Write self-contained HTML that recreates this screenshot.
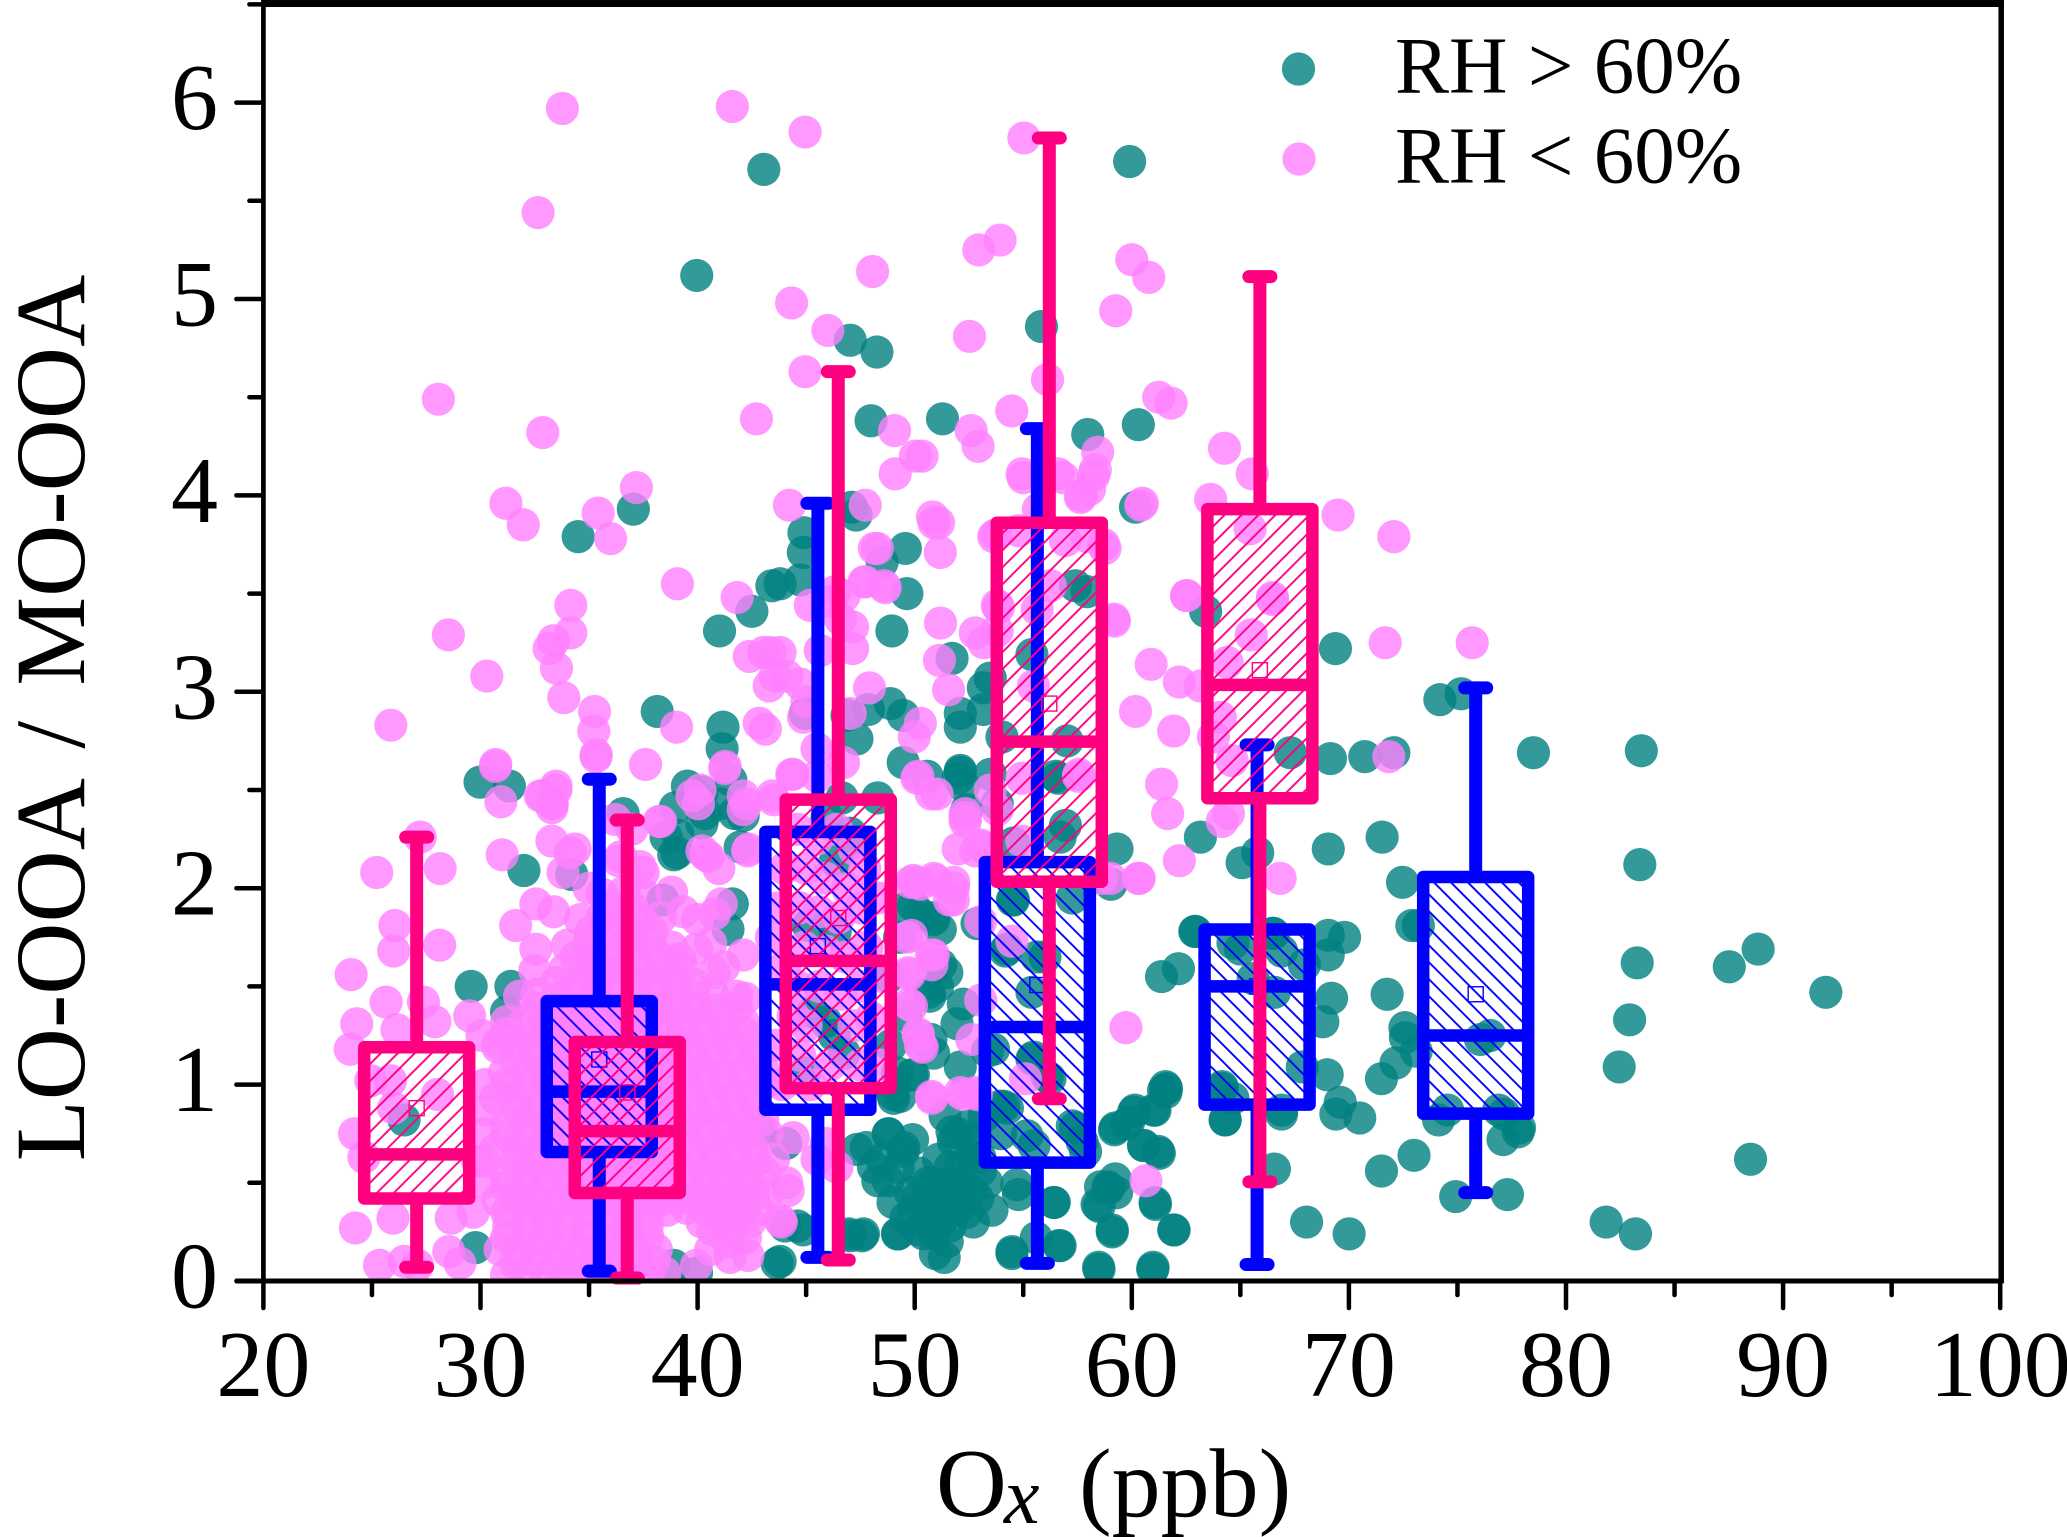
<!DOCTYPE html>
<html lang="en">
<head>
<meta charset="utf-8">
<title>LO-OOA / MO-OOA vs Ox</title>
<style>
html,body{margin:0;padding:0;background:#fff;width:2067px;height:1537px;overflow:hidden}
svg{display:block}
text{font-family:"Liberation Serif",serif;fill:#000}
</style>
</head>
<body>
<svg id="chart" xmlns="http://www.w3.org/2000/svg" width="2067" height="1537" viewBox="0 0 2067 1537">
  <defs>
    <pattern id="hatch-blue" patternUnits="userSpaceOnUse" width="12" height="12" patternTransform="rotate(45)">
      <line x1="0" y1="6" x2="12" y2="6" stroke="#0000ff" stroke-width="1.9"/>
    </pattern>
    <pattern id="hatch-pink" patternUnits="userSpaceOnUse" width="12" height="12" patternTransform="rotate(-45)">
      <line x1="0" y1="6" x2="12" y2="6" stroke="#ff0080" stroke-width="1.9"/>
    </pattern>
    <clipPath id="plot-clip"><rect x="263" y="4" width="1738" height="1275"/></clipPath>
  </defs>
  <g id="points-high" clip-path="url(#plot-clip)"></g>
  <g id="points-low" clip-path="url(#plot-clip)"></g>
  <g id="boxes"></g>
  <g id="axes"></g>
  <g>
    <circle cx="1298.5" cy="69" r="16.6" fill="#008080" fill-opacity="0.8"/>
    <text x="1395" y="92.5" font-size="81">RH &gt; 60%</text>
    <circle cx="1299" cy="159" r="16.6" fill="#ff80ff" fill-opacity="0.8"/>
    <text x="1395" y="182.5" font-size="81">RH &lt; 60%</text>
  </g>
  <text transform="translate(84,718) rotate(-90)" text-anchor="middle" font-size="100" word-spacing="10">LO-OOA / MO-OOA</text>
  <text y="1516" font-size="98"><tspan x="936">O</tspan><tspan x="1004" y="1523" font-size="80" font-style="italic">x</tspan><tspan x="1079" y="1516">(ppb)</tspan></text>
</svg>
<script>
const xTicks = [20,30,40,50,60,70,80,90,100];
const xMinorTicks = [25,35,45,55,65,75,85,95];
const yTicks = [0,1,2,3,4,5,6];
const yMinorTicks = [0.5,1.5,2.5,3.5,4.5,5.5,6.5];

const rhHighPoints = [
[43.05,5.66],[39.96,5.12],[59.9,5.7],[55.84,4.86],[47.03,4.79],[48.26,4.73],[47.99,4.38],[51.28,4.39],[60.3,4.36],[57.97,4.31],[60.17,3.94],[34.5,3.79],[37.04,3.93],
[38.14,2.9],[41.17,2.82],[41.13,2.71],[41.53,2.55],[42.5,3.41],[41.01,3.31],[43.42,3.54],[29.98,2.54],[31.33,2.52],[39.53,2.52],[40.2,2.49],[38.97,2.41],[40.2,2.33],[41.04,2.43],[42.1,2.37],[38.55,2.26],[39.05,2.18],[36.57,2.38],[41.96,2.21],[32,2.09],
[44.9,3.81],[44.87,3.71],[44.73,3.57],[43.8,3.55],[47.1,3.94],[47.3,3.9],[49.57,3.73],[48.5,3.66],[49.64,3.5],[48.95,3.31],[44.96,2.89],[46.88,2.88],[47.87,2.91],[48.88,2.94],[49.47,2.88],[47.34,2.76],[51.72,3.17],[53.48,3.07],[53.16,3.02],[53.16,2.91],[52.1,2.89],[52.1,2.82],[54.02,2.77],[49.47,2.64],[50.57,2.57],[52.1,2.59],[52.25,2.52],[53.48,2.58],[53.8,2.43],[52.4,2.4],
[57.4,3.54],[57.94,3.51],[55.4,3.19],[63.4,3.41],[57.02,2.75],[56.6,2.56],[56.94,2.32],[56.7,2.26],[59.32,2.2],[54.55,2.23],[63.16,2.26],[67.3,2.69],[65.8,2.18],[65.08,2.13],[45.96,2.36],[46.65,2.46],[48.3,2.46],[47.03,2.28],
[69.38,3.22],[74.19,2.96],[75.17,2.99],[69.15,2.66],[70.73,2.67],[72.07,2.69],[78.5,2.69],[83.47,2.7],[69.05,2.2],[71.53,2.26],[83.4,2.12],[83.28,1.62],[87.52,1.6],[88.85,1.69],[91.97,1.47],[82.93,1.33],[82.45,1.09],[88.5,0.62],[81.85,0.3],[83.2,0.24],[77.3,0.44],[77.86,0.78],[77.1,0.72],[77.15,0.85],
[52.1,2.6],[59.04,2.02],[72.47,2.03],[62.9,1.78],[61.37,1.55],[62.15,1.59],[64.66,1.72],[66.5,1.77],[66.9,1.68],[67.95,1.61],[69.05,1.76],[69.8,1.75],[69.05,1.66],[69.2,1.44],[68.8,1.32],[65.59,1.54],[66.57,1.47],[69,1.05],[67.85,1.09],[69.6,0.91],[70.5,0.83],[69.4,0.85],[64.15,0.98],[64.3,0.82],[64.66,0.93],[66.9,0.87],[66.57,0.57],[68.05,0.3],[70.01,0.24],[71.76,1.46],[72.58,1.29],[72.6,1.24],[73.1,1.17],[72.17,1.11],[71.5,1.03],[73,0.64],[71.5,0.56],[74.92,0.43],[74.13,0.82],[74.55,0.87],[77.8,0.76],[76.9,0.87],[76.06,1.23],[76.5,1.25],[73.2,1.81],[72.9,1.81],
[54.5,1.94],[57.26,1.95],[54.17,1.68],[56,1.65],[55.4,1.47],[56.5,2.57],[52,2.56],[53.35,1.17],[55.4,1.13],[56.23,1.03],[54.27,0.88],[57.26,0.79],[53.96,0.75],[55.5,0.69],[57.87,0.66],[56.43,0.4],[54.48,0.14],[56.64,0.18],[58.49,0.06],[60.96,0.06],[59.1,0.25],[61.95,0.26],[61.09,0.39],[58.49,0.38],[58.9,0.48],[59.3,0.45],[60.55,0.69],[61.27,0.65],[61.57,0.96],[61.6,0.98],[61.07,0.87],[60.14,0.87],[59.73,0.8],[59.2,0.77],[52,0.75],[49.94,1.05],[49.33,0.94],
[49.03,0.93],[49.87,1.05],[51.72,0.76],[52.47,0.79],[48.78,0.75],[49.47,0.66],[47.34,0.67],[48.1,0.58],[49.24,0.58],[48.3,0.51],[48.78,0.51],[49.8,0.45],[50.57,0.4],[51.64,0.58],[52.1,0.58],[53.02,0.56],[53.33,0.5],[52.1,0.43],[53.56,0.36],[52.4,0.35],[51.32,0.38],[50.57,0.3],[51.64,0.28],[50.4,0.24],[49.24,0.24],[50.17,0.26],[51.36,0.12],[47.64,0.24],[47.03,0.23],[44.86,0.26],[44.03,0.28],[43.8,0.1],[54.7,0.49],[54.78,0.44],[56.4,0.4],[58.4,0.39],[58.56,0.48],[59.24,0.52],[58.93,0.47],[61.07,0.4],[61.93,0.26],[59.1,0.26],[56.7,0.18],[54.48,0.15],[55.6,0.22],[58.47,0.07],[60.98,0.07],
[61.55,0.99],[61,0.87],[60.08,0.86],[59.24,0.78],[59.86,0.81],[60.54,0.69],[61.22,0.66],[61.46,0.97],[51.78,0.71],[52.1,1.09],[50.87,1.16],[50.7,1.45],[51.48,1.57],[51.18,1.79],[49.94,1.91],[50.87,1.84],[52.87,1.82],[52.24,1.41],[51.95,1.31],[53.63,1.18],[54.55,1.94],[54.25,1.69],[55.63,1.65],[53.94,0.89],[57.4,0.78],[57.71,0.71],[55.17,0.74],[55.47,1.14],[56.1,1.04],[54.1,0.89],[64.3,0.82],[66.9,0.85],[64.16,0.99],[62.93,1.78],[65,1.69],[66.52,1.77],
[29.57,1.5],[31.4,1.5],[31.2,1.37],[29.77,0.17],[38.9,2.17],[43.66,0.09],[39.95,0.04],[34.2,2.07],[38.4,1.94],[39.95,2.47],[39.1,2.27],[40.35,2.38],[41.7,2.38],[42.84,0.77],[44.06,0.7],[47.77,0.68],[48.8,0.75],[49.5,0.68],[50.66,0.37],[49.2,0.24],[47.57,0.23],[46.96,0.24],[44.6,0.28],[50.95,0.14],[41.6,1.92],[41.4,1.79],[50.86,1.85],[50.24,1.87],[51.05,1.5],[50.75,1.23],[49.2,1.06],[49,0.95],[26.48,0.82],
[45.9,1.32],[46.3,1.25],[45.3,1.37],[46.75,1.16],[44.9,1.06],[46.34,2.14],[47.15,2.23],[45.1,1.81],[46.34,1.78],[49.6,1.9],[51.2,1.61],[50.66,1.47],[48.9,1.2],[49.6,1.35],[48.8,1.55],[49.3,1.75],[38.9,0.08],[35.8,0.01],
[50.1,0.42],[50.9,0.5],[51.3,0.46],[51.9,0.5],[52.6,0.46],[50.8,0.34],[51.2,0.3],[51.9,0.36],[52.7,0.3],[50.6,0.5],[49.6,0.32],[50,0.36],[51.5,0.2],[50.9,0.24],[52.9,0.42],[53,0.63],[51.1,0.62],[52.6,0.64],[50.2,0.55],[49,0.4],[48.5,0.62],[49.9,0.72],[51.4,0.84],[52.8,0.72],[53.2,0.84]
];

const rhLowPoints = [
[33.77,5.97],[41.6,5.98],[44.95,5.85],[32.65,5.44],[48.06,5.14],[44.33,4.98],[46,4.84],[44.95,4.63],[28.06,4.49],[32.87,4.32],[42.71,4.39],[49.07,4.33],[50.03,4.2],[49.1,4.11],
[55.03,5.82],[53.93,5.3],[52.95,5.25],[60,5.2],[60.78,5.11],[59.26,4.94],[52.52,4.81],[56.12,4.59],[61.24,4.5],[61.81,4.47],[54.47,4.43],[52.6,4.33],[52.92,4.25],[58.43,4.22],[64.27,4.24],[50.34,4.2],[54.95,4.11],[56.6,4.11],[58.32,4.13],[65.55,4.11],
[58.05,4.03],[57.68,4],[60.41,3.95],[63.63,3.98],[65.45,3.83],[69.5,3.9],[72.07,3.79],[48.28,3.73],[50.89,3.86],[58.77,3.73],[56.95,3.77],[53.74,3.8],[47.67,3.56],[46.15,3.46],[46.76,3.49],[48.64,3.53],[59.2,3.36],[62.54,3.49],[66.48,3.47],
[31.17,3.96],[31.97,3.85],[35.42,3.91],[37.18,4.04],[35.99,3.78],[39.07,3.55],[41.82,3.48],[34.16,3.44],[34.16,3.3],[33.36,3.26],[33.16,3.22],[33.5,3.12],[28.52,3.29],[30.29,3.08],[33.84,2.97],[35.25,2.9],[35.22,2.8],[35.33,2.68],[25.87,2.83],[39.03,2.82],[37.6,2.63],[30.69,2.62],[30.94,2.44],[41.27,2.62],[33.48,2.52],[32.85,2.47],[33.3,2.43],[33.29,2.41],[38.23,2.34],[36.2,2.35],[36.97,2.3],[33.29,2.24],[34.36,2.2],[34.13,2.18],[31,2.17],[39.74,2.47],[40.12,2.5],[40.04,2.43],[42.24,2.43],[43.5,2.45],[42.38,3.18],[43.35,3.2],[43.04,3.2],[43.3,3.03],[42.84,2.84],[43.12,2.81],[43.57,3.08],[40.2,2.19],[40.5,2.16],[42.35,2.2],[36.36,2.14],[37.35,2.11],[27.22,2.26],[25.22,2.08],[28.14,2.1],
[44.23,3.95],[47.72,3.95],[50.82,3.89],[51.1,3.86],[51.18,3.71],[48.14,3.73],[47.72,3.56],[48.6,3.54],[46.34,3.51],[45.19,3.44],[46.58,3.37],[47.14,3.33],[47.14,3.22],[45.65,3.21],[43.8,3.2],[51.19,3.35],[52.79,3.3],[53.18,3.25],[51.14,3.16],[51.56,3.01],[44.11,3.08],[44.73,3.04],[45.03,2.95],[44.88,2.87],[47.92,3.02],[47.03,2.89],[50.26,2.84],[49.98,2.77],[45.5,2.71],[44.34,2.58],[45.5,2.57],[46.72,2.64],[50.1,2.56],[51.03,2.48],[52.33,2.38],[52.33,2.34],[53.48,2.5],[53.8,2.4],[52,2.2],[53.1,2.21],[53.8,3.44],[53.64,3.79],[54.8,3.82],[55.7,3.93],[55,4.09],[56.84,4.09],[57.63,3.99],[58.24,4.1],[60.49,3.96],[57.94,3.79],[58.7,3.75],[59.17,3.37],[56.25,3.54],[55.64,3.42],[53.86,3.43],[53.8,3.31],[55.47,3.03],[62.52,3.49],[66.48,3.48],[65.5,3.29],[64.39,3.15],[60.89,3.14],[62.19,3.05],[63.16,3.03],[60.17,2.9],[61.93,2.8],[63.76,2.77],[64.08,2.87],[64.62,2.65],[61.37,2.53],[61.65,2.38],[64.16,2.34],[64.45,2.38],[62.19,2.14],[57.54,2.57],[54.94,2.56],[54.94,2.24],[52.8,2.19],
[71.67,3.25],[75.68,3.25],[71.84,2.67],[60.34,2.05],[66.83,2.05],[59.73,1.29],[60.65,0.51],[54.48,1.73],[53.04,1.43],[52.63,1.23],[55.1,1.03],[50.77,0.94],[52.22,0.95],[52.84,0.95],[57.57,2.58],[50.15,2.57],[50.76,2.48],[52.32,2.36],[53.04,2.22],[49.94,2.04],[50.88,2.05],[51.8,2.03],[51.6,1.94],[53.04,1.83],[49.85,1.76],[50.77,1.66],[49.75,1.56],[49.85,1.4],[50.16,1.26],[50.35,1.19],[58.6,2.05],
[49.8,2.03],[50.26,2.02],[50.95,2.04],[51.78,2],[51.78,1.94],[49.64,1.75],[50.79,1.61],[49.71,1.57],[50.17,1.25],[50.26,1.2],[50.79,0.93],[52.1,0.96],[52.79,0.96],[44.4,0.73],[45.5,0.62],[46.42,0.58],[44.11,0.5],[43.8,0.31],[59.02,2.05],[60.3,2.05],
[30.7,2.63],[33.47,2.5],[32.75,2.47],[33.3,2.43],[35.32,2.67],[26.06,1.81],[26,1.68],[28.12,1.71],[24.04,1.56],[25.65,1.42],[27.37,1.42],[24.3,1.31],[27.9,1.32],[26.15,1.28],[24,1.18],[29.5,1.35],[24.95,1.02],[25.86,1.02],[24.2,0.75],[26,0.88],[28.02,0.95],[24.63,0.63],[25.97,0.32],[24.24,0.27],[25.35,0.08],[26.48,0.1],[27.1,0.08],[29.05,0.09],[28.54,0.15],[28.65,0.32],[29.67,0.35],[29.87,0.61],[30.07,1.25],[30.8,1.21],
[32.55,1.92],[31.62,1.81],[33.37,1.88],[32.55,1.69],[33.8,2.08],[35,2],[36.46,2.16],[37.49,2.08],[38.3,2.34],[41.25,2.61],[42.1,2.4],[44.38,2.58],[40.37,2.17],[40.98,2.1],[42.3,2.19],[39.34,1.88],[41.09,1.92],[40.78,1.87],[42.11,1.66],[39.95,1.69],[40.77,1.57],[41.8,1.45],[49.73,1.41],[50.86,1.66],[43.86,0.3],[44.17,0.46],[45.93,0.7],[42.32,0.13],[41.5,0.12],[39.95,0.08],[43.44,2.47],[42.1,2.47],[50.02,2.03],
[44.6,2.3],[45.5,2.25],[46.4,2.3],[47.2,2.2],[45,2.1],[45.9,2.05],[46.9,2],[47.7,2.1],[44.7,1.9],[45.6,1.88],[46.5,1.85],[47.5,1.9],[48.3,1.95],[44.9,1.7],[45.9,1.68],[46.8,1.65],[47.8,1.7],[44.6,1.5],[45.6,1.5],[46.6,1.46],[47.5,1.5],[48.5,1.55],[45,1.3],[47.2,1.3],[48,1.34],[44.7,1.15],[46.1,1.1],[47.5,1.1],[45.2,1],[48.4,1.1],[44.4,1.35],[44,1.6],[43.7,1.9],[44,2.1],[43.6,1.2],[43.9,1],[43.4,1.75],
[31.2,0.03],[32.1,0.04],[33,0.02],[34,0.03],[34.9,0.05],[35.8,0.03],[36.8,0.04],[37.7,0.02],[38.5,0.04],
[30.9,0.16],[31.7,0.15],[32.6,0.16],[33.6,0.14],[34.5,0.16],[35.4,0.15],[36.3,0.16],[37.2,0.15],[38.1,0.16],[40.6,0.16],[41.4,0.2],[42.2,0.22],
[31.3,0.28],[32.2,0.29],[33.1,0.27],[34.1,0.28],[35,0.29],[35.9,0.27],[36.8,0.28],[37.7,0.29],[40.2,0.3],[41.1,0.32],[41.9,0.34],[42.8,0.36],
[30.8,0.41],[31.7,0.42],[32.6,0.4],[33.6,0.41],[34.5,0.42],[35.4,0.4],[36.3,0.41],[37.2,0.42],[38.1,0.4],[39,0.42],[39.9,0.41],[40.8,0.42],[41.7,0.4],[42.6,0.44],
[31.2,0.54],[32.1,0.55],[33,0.53],[34,0.54],[34.9,0.55],[35.8,0.53],[36.8,0.54],[37.7,0.55],[38.6,0.53],[39.5,0.54],[40.4,0.55],[41.3,0.53],[42.2,0.54],[43.1,0.55],
[30.7,0.67],[31.7,0.68],[32.6,0.66],[33.5,0.67],[34.4,0.68],[35.3,0.66],[36.2,0.67],[37.1,0.68],[38,0.66],[38.9,0.67],[39.8,0.68],[40.7,0.66],[41.6,0.67],[42.5,0.68],
[31.2,0.8],[32.1,0.81],[33,0.79],[34,0.8],[34.9,0.81],[35.8,0.79],[36.8,0.8],[37.7,0.81],[38.6,0.79],[39.5,0.8],[40.4,0.81],[41.3,0.79],[42.2,0.8],[43,0.82],
[30.7,0.93],[31.6,0.94],[32.6,0.92],[33.5,0.93],[34.4,0.94],[35.3,0.92],[36.2,0.93],[37.1,0.94],[38,0.92],[38.9,0.93],[39.8,0.94],[40.7,0.92],[41.6,0.93],[42.5,0.94],
[31.1,1.06],[32.1,1.07],[33,1.05],[33.9,1.06],[34.9,1.07],[35.8,1.05],[36.7,1.06],[37.6,1.07],[38.5,1.05],[39.4,1.06],[40.3,1.07],[41.2,1.05],[42.1,1.06],[43,1.08],
[30.8,1.19],[31.6,1.2],[32.5,1.18],[33.4,1.19],[34.4,1.2],[35.3,1.18],[36.2,1.19],[37.1,1.2],[38,1.18],[38.9,1.19],[39.8,1.2],[40.7,1.18],[41.6,1.19],[42.5,1.2],
[31.2,1.32],[32.1,1.33],[33,1.31],[33.9,1.32],[34.8,1.33],[35.7,1.31],[36.7,1.32],[37.6,1.33],[38.5,1.31],[39.4,1.32],[40.3,1.33],[41.2,1.31],[42.1,1.32],
[31.8,1.45],[32.6,1.46],[33.5,1.44],[34.4,1.45],[35.3,1.46],[36.2,1.44],[37.1,1.45],[38,1.46],[38.9,1.44],[39.8,1.45],[40.7,1.46],[42.2,1.44],
[32.5,1.58],[33.9,1.59],[34.8,1.57],[35.7,1.58],[36.6,1.59],[37.5,1.57],[38.4,1.58],[39.3,1.59],[41.2,1.6],
[34,1.71],[35,1.72],[36,1.7],[36.9,1.71],[37.8,1.72],[38.8,1.7],[40.6,1.72],
[34.6,1.84],[35.6,1.85],[36.5,1.83],[37.4,1.84],[38.3,1.85],[40,1.84],
[35.6,1.97],[36.6,1.98],[37.6,1.96],[38.8,1.98]
];

const rhLowCorePoints = [
[31.6,0.09],[32.5,0.1],[33.5,0.08],[34.4,0.09],[35.3,0.1],[36.3,0.08],[37.2,0.09],[38,0.1],
[31.2,0.22],[32.1,0.23],[33,0.21],[34,0.22],[34.9,0.23],[35.8,0.21],[36.8,0.22],[37.7,0.23],[40.7,0.26],[41.6,0.27],[42.4,0.3],
[31.2,0.35],[32.2,0.36],[33.1,0.34],[34,0.35],[35,0.36],[35.9,0.34],[36.8,0.35],[37.7,0.36],[38.6,0.36],[39.5,0.37],[40.4,0.36],[41.3,0.37],[42.2,0.38],
[30.2,0.5],[31.2,0.48],[32.1,0.47],[33.1,0.49],[34,0.48],[35,0.47],[35.9,0.49],[36.8,0.48],[37.7,0.47],[38.6,0.49],[39.5,0.48],[40.4,0.47],[41.3,0.49],[42.2,0.48],[43.2,0.45],
[30.2,0.61],[31.6,0.61],[32.6,0.6],[33.5,0.61],[34.4,0.6],[35.4,0.61],[36.3,0.6],[37.2,0.61],[38.1,0.6],[39,0.61],[39.9,0.6],[40.8,0.61],[41.8,0.6],[42.7,0.61],[43.5,0.62],
[30.2,0.75],[31.2,0.74],[32.1,0.73],[33.1,0.74],[34,0.73],[34.9,0.74],[35.9,0.73],[36.8,0.74],[37.7,0.73],[38.6,0.74],[39.5,0.73],[40.4,0.74],[41.3,0.73],[42.2,0.74],[43.2,0.75],
[30.3,0.87],[31.7,0.87],[32.6,0.86],[33.5,0.87],[34.4,0.86],[35.4,0.87],[36.3,0.86],[37.2,0.87],[38.1,0.86],[39,0.87],[39.9,0.86],[40.8,0.87],[41.8,0.86],[42.7,0.87],
[30.2,1],[31.2,1],[32.1,0.99],[33.1,1],[34,0.99],[34.9,1],[35.9,0.99],[36.8,1],[37.7,0.99],[38.6,1],[39.5,0.99],[40.4,1],[41.3,0.99],[42.2,1],[43.1,1.01],
[31.6,1.12],[32.6,1.13],[33.5,1.12],[34.4,1.13],[35.4,1.12],[36.3,1.13],[37.2,1.12],[38.1,1.13],[39,1.12],[39.9,1.13],[40.8,1.12],[41.8,1.13],[42.7,1.14],
[31.2,1.26],[32.1,1.25],[33,1.26],[34,1.25],[34.9,1.26],[35.8,1.25],[36.8,1.26],[37.7,1.25],[38.6,1.26],[39.5,1.25],[40.4,1.26],[41.3,1.25],[42.2,1.26],
[32.6,1.39],[33.5,1.38],[34.4,1.39],[35.4,1.38],[36.3,1.39],[37.2,1.38],[38.1,1.39],[39,1.38],[39.9,1.39],[40.8,1.38],[41.8,1.39],
[33.5,1.52],[34.4,1.51],[35.4,1.52],[36.3,1.51],[37.2,1.52],[38.1,1.51],[39,1.52],[39.9,1.51],
[34.4,1.65],[35.3,1.64],[36.3,1.65],[37.2,1.64],[38.2,1.65],[39.2,1.64],
[35.1,1.78],[36.1,1.78],[37,1.77],[37.9,1.78],[36,1.91],[37,1.9]
];

const boxCenters = [27.06,35.47,36.76,45.54,46.48,55.65,56.2,65.77,65.9,75.84];
const boxSeries = ['low','high','low','high','low','high','low','high','low','high'];
const boxQ3 = [1.19,1.425,1.217,2.287,2.451,2.133,3.861,1.79,3.93,2.057];
const boxQ1 = [0.42,0.657,0.448,0.872,0.982,0.603,2.033,0.898,2.458,0.852];
const boxMedian = [0.645,0.964,0.763,1.51,1.63,1.293,2.746,1.5,3.035,1.25];
const boxMean = [0.88,1.128,0.96,1.705,1.848,1.507,2.94,1.5,3.11,1.46];
const whiskerHigh = [2.26,2.555,2.347,3.96,4.63,4.34,5.82,2.73,5.114,3.02];
const whiskerLow = [0.07,0.05,0.015,0.12,0.107,0.09,0.928,0.084,0.505,0.45];
const boxDrawOrder = [1,3,5,7,9,0,2,4,6,8];

const xOrigin = 263.4, xPerUnit = 21.71, xStart = 20;
const yOrigin = 1281, yPerUnit = 196.4;
function sx(v){ return xOrigin + (v - xStart) * xPerUnit; }
function sy(v){ return yOrigin - v * yPerUnit; }

const NS = 'http://www.w3.org/2000/svg';
function make(tag, props, parent){
  const el = document.createElementNS(NS, tag);
  for (const k in props) el.setAttribute(k, props[k]);
  parent.appendChild(el);
  return el;
}

const highGroup = document.getElementById('points-high');
rhHighPoints.forEach(function(p){
  const c = make('circle', {cx:sx(p[0]), cy:sy(p[1]), r:16.6, fill:'#008080', 'fill-opacity':0.8}, highGroup);
  
  
});
const lowGroup = document.getElementById('points-low');
rhLowPoints.concat(rhLowCorePoints).forEach(function(p){
  const c = make('circle', {cx:sx(p[0]), cy:sy(p[1]), r:16.6, fill:'#ff80ff', 'fill-opacity':0.8}, lowGroup);
  
  
});

const boxesGroup = document.getElementById('boxes');
const boxHalf = 52.5;
boxDrawOrder.forEach(function(i){
  const color = boxSeries[i] === 'high' ? '#0000ff' : '#ff0080';
  const hatch = boxSeries[i] === 'high' ? 'url(#hatch-blue)' : 'url(#hatch-pink)';
  const cx = sx(boxCenters[i]);
  const g = make('g', {}, boxesGroup);
  
  
  const top = sy(boxQ3[i]), bot = sy(boxQ1[i]);
  const w1 = make('line', {x1:cx, x2:cx, y1:sy(whiskerHigh[i]), y2:top, stroke:color, 'stroke-width':13}, g);
  
  
  const w2 = make('line', {x1:cx, x2:cx, y1:bot, y2:sy(whiskerLow[i]), stroke:color, 'stroke-width':13}, g);
  
  
  const c1 = make('line', {x1:cx-11, x2:cx+11, y1:sy(whiskerHigh[i]), y2:sy(whiskerHigh[i]), stroke:color, 'stroke-width':13, 'stroke-linecap':'round'}, g);
  
  
  const c2 = make('line', {x1:cx-11, x2:cx+11, y1:sy(whiskerLow[i]), y2:sy(whiskerLow[i]), stroke:color, 'stroke-width':13, 'stroke-linecap':'round'}, g);
  
  
  const r = make('rect', {x:cx-boxHalf, y:top, width:boxHalf*2, height:bot-top, fill:hatch, stroke:color, 'stroke-width':12.5, 'stroke-linejoin':'round'}, g);
  
  
  const m = make('line', {x1:cx-boxHalf, x2:cx+boxHalf, y1:sy(boxMedian[i]), y2:sy(boxMedian[i]), stroke:color, 'stroke-width':12.5}, g);
  
  
  const mean = make('rect', {x:cx-7.5, y:sy(boxMean[i])-7.5, width:15, height:15, fill:'none', stroke:color, 'stroke-width':1.4}, g);
  
  
});

const axes = document.getElementById('axes');
const frameLeft = make('line', {x1:sx(20), x2:sx(20), y1:0, y2:sy(0), stroke:'#000', 'stroke-width':4.7}, axes);


const frameRight = make('line', {x1:sx(100)+1, x2:sx(100)+1, y1:0, y2:sy(0)+2, stroke:'#000', 'stroke-width':5.5}, axes);


const frameTop = make('rect', {x:sx(20), y:0, width:sx(100)+3.8-sx(20), height:7, fill:'#000'}, axes);


const frameBottom = make('line', {x1:sx(20)-28, x2:sx(100)+3.5, y1:sy(0), y2:sy(0), stroke:'#000', 'stroke-width':5}, axes);



xTicks.forEach(function(v){
  const t = make('line', {x1:sx(v), x2:sx(v), y1:sy(0), y2:sy(0)+27, stroke:'#000', 'stroke-width':4.5, 'stroke-linecap':'round'}, axes);
  
  
  const l = make('text', {x:sx(v), y:1396, 'text-anchor':'middle', 'font-size':94}, axes);
  
  
  l.textContent = String(v);
});
xMinorTicks.forEach(function(v){
  const t = make('line', {x1:sx(v), x2:sx(v), y1:sy(0), y2:sy(0)+14, stroke:'#000', 'stroke-width':4.5, 'stroke-linecap':'round'}, axes);
  
  
});
yTicks.forEach(function(v){
  const t = make('line', {x1:sx(20)-27, x2:sx(20), y1:sy(v), y2:sy(v), stroke:'#000', 'stroke-width':4.5, 'stroke-linecap':'round'}, axes);
  
  
  const l = make('text', {x:218, y:sy(v)+26.5, 'text-anchor':'end', 'font-size':94}, axes);
  
  
  l.textContent = String(v);
});
yMinorTicks.forEach(function(v){
  const t = make('line', {x1:sx(20)-14, x2:sx(20), y1:sy(v), y2:sy(v), stroke:'#000', 'stroke-width':4.5, 'stroke-linecap':'round'}, axes);
  
  
});
</script>
</body>
</html>
